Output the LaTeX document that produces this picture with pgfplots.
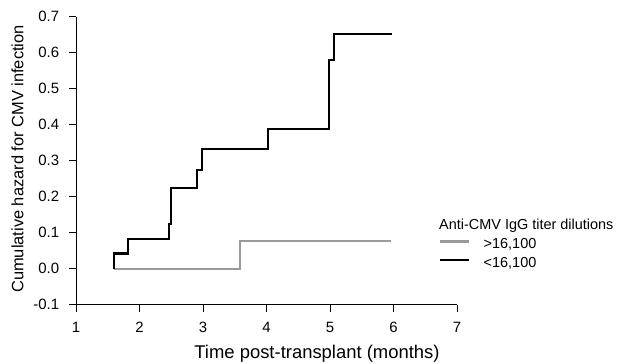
\documentclass[border=0pt]{standalone}
\usepackage{fontspec}
\setmainfont{Liberation Sans}
\usepackage{pgfplots}
\pgfplotsset{compat=1.18}
\definecolor{lgray}{HTML}{9A9A9A}
\begin{document}
\begin{tikzpicture}
\useasboundingbox (-76bp,-59.3bp) rectangle (543bp,304.7bp);
\begin{axis}[
  at={(0,0)}, anchor=south west,
  scale only axis, width=381bp, height=288bp,
  xmin=1, xmax=7, ymin=-0.1, ymax=0.7,
  axis lines=left,
  axis line style={-, black, line width=0.75bp},
  tick style={black, line width=0.75bp},
  tick align=outside, major tick length=7bp,
  xtick={1,2,3,4,5,6,7},
  ytick={-0.1,0,0.1,0.2,0.3,0.4,0.5,0.6,0.7},
  yticklabels={-0.1,0.0,0.1,0.2,0.3,0.4,0.5,0.6,0.7},
  xticklabels={1,2,3,4,5,6,7},
  yticklabel style={anchor=east, inner sep=0pt, xshift=-9.7bp, font=\fontsize{15}{17}\selectfont},
  xticklabel style={anchor=base, inner sep=0pt, yshift=-21bp, font=\fontsize{15}{17}\selectfont},
  xlabel={Time post-transplant (months)},
  ylabel={Cumulative hazard for CMV infection},
  x label style={at={(axis description cs:0.6325,-0.1861)}, anchor=base, font=\fontsize{18.5}{22}\selectfont, inner sep=0pt},
  y label style={at={(axis description cs:-0.1378,0.506)}, anchor=base, font=\fontsize{16.5}{20}\selectfont, inner sep=0pt},
  clip=false,
  legend image code/.code={\draw[#1] (0bp,5.5bp) -- (29bp,5.5bp);},
  legend cell align=left,
  legend style={at={(axis cs:6.717,0.0861)}, anchor=north west, draw=none, fill=none,
    inner sep=0pt, outer sep=0pt, row sep=0pt,
    font=\fontsize{14.5}{17}\selectfont,
    nodes={inner sep=0pt, text height=11bp, text depth=7.5bp},
    /tikz/every odd column/.append style={column sep=13.5bp}},
]
\addplot[const plot, color=lgray, line width=2.2bp] coordinates {
  (1.6,0) (3.58,0.078) (5.96,0.078)
};
\addlegendentry{>16,100}
\addplot[const plot, color=black, line width=2.2bp] coordinates {
  (1.6,0) (1.6,0.042) (1.82,0.083) (2.46,0.125) (2.49,0.225) (2.91,0.275)
  (2.99,0.333) (4.02,0.389) (4.99,0.58) (5.06,0.653) (5.97,0.653)
};
\addlegendentry{<16,100}
\node[anchor=base west, inner sep=0pt, font=\fontsize{14.5}{17}\selectfont] at (axis cs:6.717,0.110) {Anti-CMV IgG titer dilutions};
\end{axis}
\end{tikzpicture}
\end{document}
